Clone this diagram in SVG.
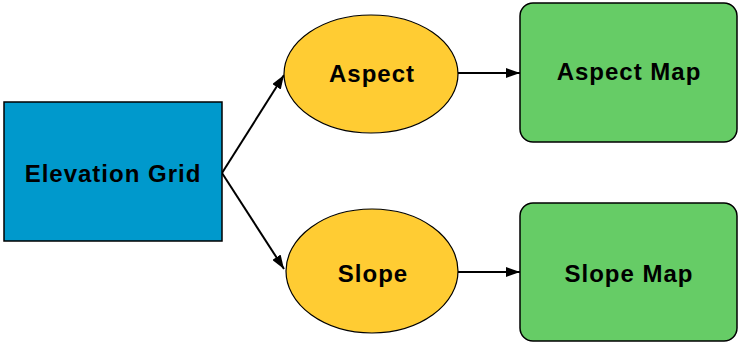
<svg xmlns="http://www.w3.org/2000/svg" width="739" height="343" viewBox="0 0 739 343">
<style>
.lbl{font-family:"Liberation Sans",Arial,sans-serif;font-weight:bold;font-size:24px;letter-spacing:1px;fill:#000;text-anchor:middle}
.edge{stroke:#000;stroke-width:2;fill:none;marker-end:url(#ah)}
</style>
<defs>
<marker id="ah" viewBox="0 0 14 10" refX="14" refY="5" markerWidth="14" markerHeight="10" markerUnits="userSpaceOnUse" orient="auto">
<path d="M0,0 L14,5 L0,10 Z" fill="#000"/>
</marker>
</defs>
<rect width="739" height="343" fill="#fff"/>
<g id="connectors">
<path class="edge" d="M222,173 L284,75"/>
<path class="edge" d="M222,173 L284,269"/>
<path class="edge" d="M458,73 L520,73"/>
<path class="edge" d="M458,272 L520,272"/>
</g>
<g id="elevation-grid">
<rect x="4" y="102" width="218" height="139" fill="#0099CC" stroke="#000" stroke-width="1.5"/>
<text class="lbl" x="113" y="182">Elevation Grid</text>
</g>
<g id="aspect">
<ellipse cx="371" cy="74" rx="87" ry="59" fill="#FFCC33" stroke="#000" stroke-width="1.2"/>
<text class="lbl" x="372" y="82">Aspect</text>
</g>
<g id="slope">
<ellipse cx="372" cy="271" rx="86" ry="62" fill="#FFCC33" stroke="#000" stroke-width="1.2"/>
<text class="lbl" x="373" y="282">Slope</text>
</g>
<g id="aspect-map">
<rect x="520" y="3" width="217" height="139" rx="13" fill="#66CC66" stroke="#000" stroke-width="1.5"/>
<text class="lbl" x="629" y="80">Aspect Map</text>
</g>
<g id="slope-map">
<rect x="520" y="203" width="217" height="138" rx="13" fill="#66CC66" stroke="#000" stroke-width="1.5"/>
<text class="lbl" x="629" y="282">Slope Map</text>
</g>
</svg>
